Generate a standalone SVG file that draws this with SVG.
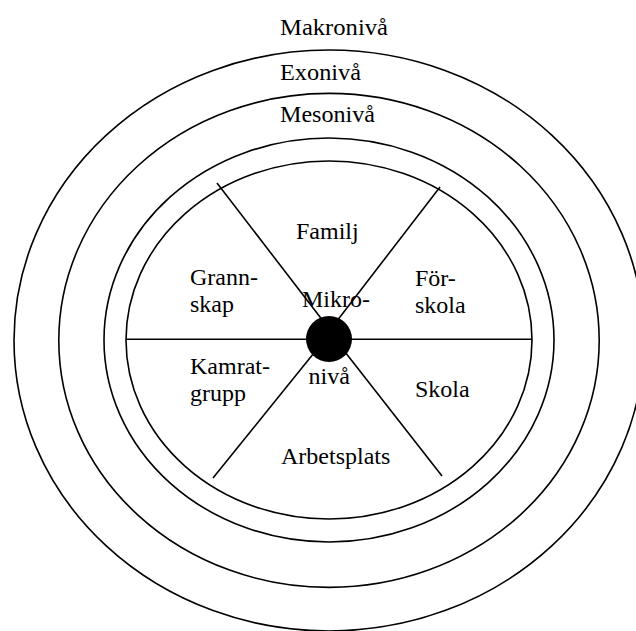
<svg xmlns="http://www.w3.org/2000/svg" width="636" height="631" viewBox="0 0 636 631">
<style>
.ring{fill:none;stroke:#000;stroke-width:1.6}
.sep{stroke:#000;stroke-width:1.6;fill:none}
text{font-family:'Liberation Serif','DejaVu Serif','Times New Roman',Times,serif;font-size:24px;fill:#000}
</style>
<rect width="636" height="631" fill="#fff"/>
<g id="makroniva">
<ellipse class="ring" cx="329" cy="340.5" rx="315" ry="290.5"/>
<text x="280" y="35" textLength="108" lengthAdjust="spacingAndGlyphs">Makronivå</text>
</g>
<g id="exoniva">
<ellipse class="ring" cx="329" cy="340.4" rx="270.2" ry="247"/>
<text x="280" y="79.5" textLength="81" lengthAdjust="spacingAndGlyphs">Exonivå</text>
</g>
<g id="mesoniva">
<ellipse class="ring" cx="329" cy="340" rx="225" ry="202"/>
<text x="280" y="121.5" textLength="95" lengthAdjust="spacingAndGlyphs">Mesonivå</text>
</g>
<g id="mikro-ring">
<ellipse class="ring" cx="329" cy="340" rx="203" ry="179"/>
</g>
<g id="connectors">
<line class="sep" x1="126" y1="339.3" x2="532" y2="339.3"/>
<line class="sep" x1="217" y1="183" x2="330" y2="330"/>
<line class="sep" x1="440" y1="187" x2="330" y2="330"/>
<line class="sep" x1="213" y1="478" x2="322" y2="343"/>
<line class="sep" x1="442" y1="476" x2="338" y2="343"/>
</g>
<g id="familj"><text x="296" y="239">Familj</text></g>
<g id="grannskap"><text x="190" y="285">Grann-</text><text x="190" y="312">skap</text></g>
<g id="forskola"><text x="415" y="286">För-</text><text x="415" y="313">skola</text></g>
<g id="kamratgrupp"><text x="190" y="374">Kamrat-</text><text x="190" y="401">grupp</text></g>
<g id="skola"><text x="415" y="397">Skola</text></g>
<g id="arbetsplats"><text x="281" y="464">Arbetsplats</text></g>
<g id="mikroniva">
<text x="302" y="307">Mikro-</text>
<circle cx="329" cy="339" r="23" fill="#000"/>
<text x="308.5" y="384">nivå</text>
</g>
</svg>
